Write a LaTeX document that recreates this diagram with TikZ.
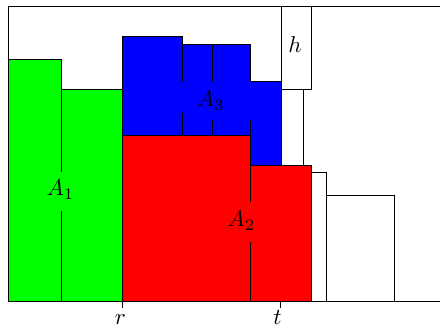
\documentclass[tikz,border=0pt]{standalone}
\begin{document}
\begin{tikzpicture}[x=0.4348pt,y=-0.4348pt,
  area/.style={draw=black},
  divider/.style={draw=black},
  lbl/.style={inner sep=0pt,anchor=base}]
\useasboundingbox (0,0) rectangle (440,327);
% frame
\draw (440,6.3) -- (8.3,6.3) -- (8.3,301) -- (440,301);
% white boxes
\draw[fill=white] (281,89.3) rectangle (303.7,301);
\draw[fill=white] (311,172.7) rectangle (326,301);
\draw[fill=white] (326,195.3) rectangle (394.3,301);
\draw[fill=white] (281,6.3) rectangle (311,89.3);
% green region
\draw[area,fill=green] (8.3,301) -- (8.3,59.7) -- (61.7,59.7) -- (61.7,89.3)
  -- (122.3,89.3) -- (122.3,301) -- cycle;
% blue region
\draw[area,fill=blue] (122.3,135.3) -- (122.3,36.7) -- (182.7,36.7) -- (182.7,44)
  -- (250.7,44) -- (250.7,81.7) -- (281,81.7) -- (281,165.7) -- (250.7,165.7)
  -- (250.7,135.3) -- cycle;
% red region
\draw[area,fill=red] (122.3,301) -- (122.3,135.3) -- (250.7,135.3) -- (250.7,165.7)
  -- (311,165.7) -- (311,301) -- cycle;
% dividers
\draw[divider] (61.7,89.3) -- (61.7,171.7) (61.7,211) -- (61.7,301);
\draw[divider] (182.7,44) -- (182.7,81.7) (182.7,112.7) -- (182.7,135.3);
\draw[divider] (212.7,44) -- (212.7,81.7) (212.7,120) -- (212.7,135.3);
\draw[divider] (250.7,120) -- (250.7,135.3);
\draw[divider] (250.7,165.7) -- (250.7,202.3) (250.7,241.7) -- (250.7,301);
% labels
\node[lbl] (A1) at (60.3,195.7) {$A_1$};
\node[lbl] (A2) at (241.5,226.7) {$A_2$};
\node[lbl] (A3) at (211,106.7) {$A_3$};
\node[lbl] (h) at (295,52.7) {$h$};
% ticks
\coordinate (rb) at (122.3,301);
\coordinate (rt) at (122.3,308);
\coordinate (tb) at (280.7,301);
\coordinate (tt) at (280.7,308);
\draw (rb) -- (rt);
\draw (tb) -- (tt);
\node[lbl] (r) at (120.3,324.3) {$r$};
\node[lbl] (t) at (277.5,324.3) {$t$};
\end{tikzpicture}
\end{document}
